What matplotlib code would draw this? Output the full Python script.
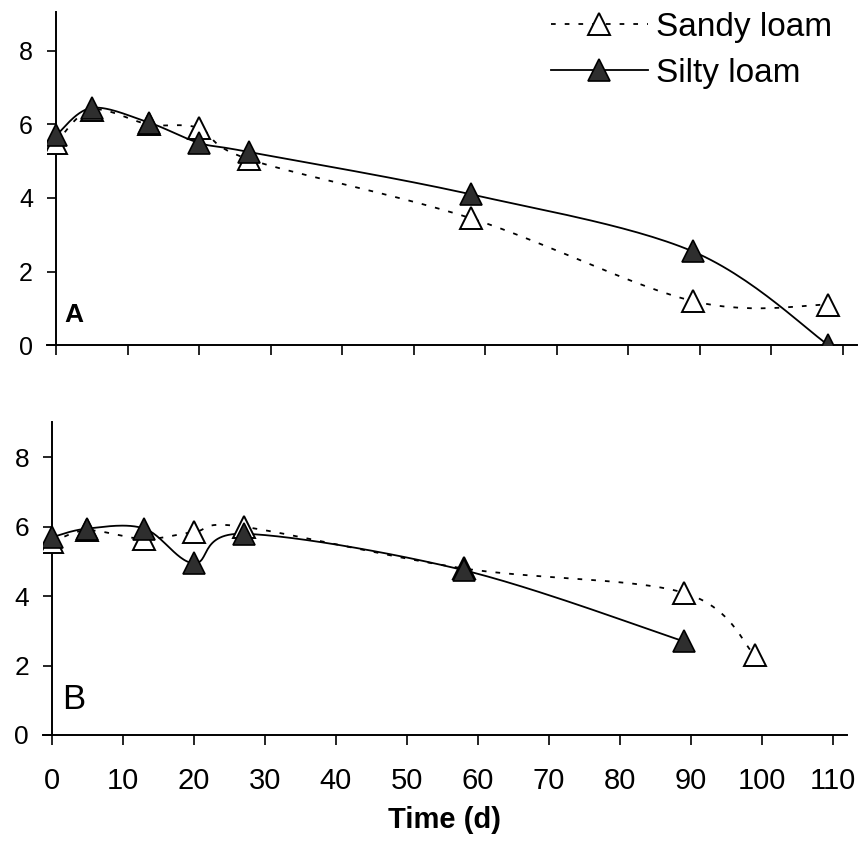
import matplotlib
matplotlib.use('Agg')
import matplotlib.pyplot as plt
import numpy as np

plt.rcParams['font.family'] = ['Liberation Sans', 'DejaVu Sans']

# Panel A
dias_a_arena = [0, 5, 13, 20, 27, 58, 89, 108]
valor_a_arena = [5.5, 6.4, 6.0, 5.9, 5.05, 3.45, 1.2, 1.1]
dias_a_limo = [0, 5, 13, 20, 27, 58, 89, 108]
valor_a_limo = [5.7, 6.45, 6.05, 5.5, 5.25, 4.1, 2.55, 0.0]

# Panel B
dias_b_arena = [0, 5, 13, 20, 27, 58, 89, 99]
valor_b_arena = [5.55, 5.9, 5.65, 5.85, 6.0, 4.8, 4.1, 2.3]
dias_b_limo = [0, 5, 13, 20, 27, 58, 89]
valor_b_limo = [5.7, 5.95, 5.95, 4.95, 5.8, 4.75, 2.7]

xticks = list(range(0, 111, 10))
yticks = [0, 2, 4, 6, 8]


def suavizar(x, y, n=30):
    # curva suavizada tipo Excel (Catmull-Rom / Bezier)
    p = np.column_stack([x, y]).astype(float)
    p = np.vstack([p[0], p, p[-1]])
    out = []
    for i in range(1, len(p) - 2):
        p0, p1, p2, p3 = p[i - 1], p[i], p[i + 1], p[i + 2]
        c1 = p1 + (p2 - p0) / 6.0
        c2 = p2 - (p3 - p1) / 6.0
        t = np.linspace(0, 1, n)[:, None]
        seg = ((1 - t) ** 3) * p1 + 3 * ((1 - t) ** 2) * t * c1 + 3 * (1 - t) * t ** 2 * c2 + t ** 3 * p2
        out.append(seg)
    out = np.vstack(out)
    return out[:, 0], out[:, 1]


def dibujar(ax, xa, ya, xl, yl, ytop):
    sx, sy = suavizar(xa, ya)
    ax.plot(sx, sy, color='black', lw=1.3, dashes=(2.6, 5), zorder=2)
    sx, sy = suavizar(xl, yl)
    ax.plot(sx, sy, color='black', lw=1.3, zorder=2)
    ax.plot(xa, ya, ls='none', marker='^', ms=16, mfc='white', mec='black', mew=1.4, zorder=3)
    ax.plot(xl, yl, ls='none', marker='^', ms=16, mfc='#2e2e2e', mec='black', mew=1.2, zorder=4)
    ax.set_xlim(-1.3, 112)
    ax.set_ylim(0, ytop)
    ax.spines['left'].set_position(('data', 0))
    ax.spines['top'].set_visible(False)
    ax.spines['right'].set_visible(False)
    for s in ['left', 'bottom']:
        ax.spines[s].set_linewidth(1.4)
    ax.set_xticks(xticks)
    ax.set_yticks(yticks)
    ax.tick_params(direction='out', width=1.2, color='black')
    ax.tick_params(axis='y', length=6.5, pad=10)
    ax.tick_params(axis='x', length=7, pad=16)


fig = plt.figure(figsize=(8.63, 8.5), dpi=100)
ax1 = fig.add_axes([0.0541, 0.594, 0.939, 0.392])
ax2 = fig.add_axes([0.0495, 0.1353, 0.932, 0.3686])

dibujar(ax1, dias_a_arena, valor_a_arena, dias_a_limo, valor_a_limo, 9.06)
ax1.tick_params(axis='x', labelbottom=False)
ax1.tick_params(axis='y', labelsize=18)

dibujar(ax2, dias_b_arena, valor_b_arena, dias_b_limo, valor_b_limo, 9.03)
ax2.tick_params(axis='y', labelsize=19)
ax2.tick_params(axis='x', labelsize=21)
ax2.set_xlabel('Time (d)', fontsize=21, fontweight='bold', labelpad=8)

ax1.text(1.2, 0.5, 'A', fontsize=19, fontweight='bold', ha='left', va='bottom')
ax2.text(1.4, 0.55, 'B', fontsize=25, ha='left', va='bottom')

# leyenda
h1, = ax1.plot([], [], color='black', lw=1.3, dashes=(2.6, 5), marker='^', ms=16,
               mfc='white', mec='black', mew=1.4)
h2, = ax1.plot([], [], color='black', lw=1.3, marker='^', ms=16,
               mfc='#2e2e2e', mec='black', mew=1.2)
fig.legend([h1, h2], ['Sandy loam', 'Silty loam'], loc='upper right',
           bbox_to_anchor=(832 / 863, 1 - 12 / 850), frameon=False, fontsize=24,
           handlelength=2.9, handletextpad=0.25, labelspacing=0.45,
           borderpad=0, borderaxespad=0)

fig.savefig('out.png', dpi=100)
